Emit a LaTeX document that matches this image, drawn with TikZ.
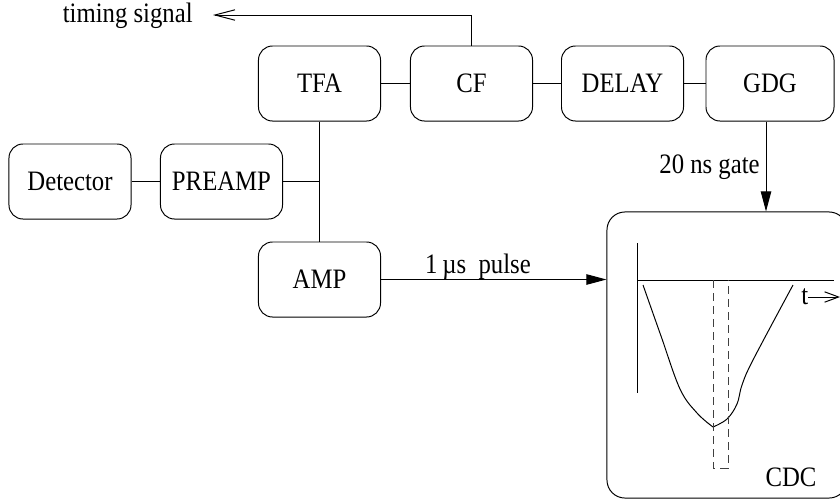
\documentclass[tikz,border=0pt]{standalone}
\usepackage{fontspec}
\setmainfont[FakeStretch=0.88]{Liberation Serif}
\usetikzlibrary{arrows.meta}
\tikzset{
  unit/.style = {draw, line width=0.7pt, rounded corners=0.35cm, minimum width=3.05cm, minimum height=1.875cm, inner sep=0pt},
  wire/.style = {line width=0.7pt},
  openhead/.style = {-{Straight Barb[length=5mm, width=2.6mm]}},
  fullhead/.style = {-{Triangle[length=5mm, width=2.6mm]}},
}
\begin{document}
\begin{tikzpicture}[x=0.025cm, y=-0.025cm, font=\fontsize{20}{24}\selectfont]
			\useasboundingbox (0,0) rectangle (840,501);
			
			\node[unit] (detector) at (70,181.5) {Detector};
			\node[unit] (preamp) at (221.5,181.5) {PREAMP};
			\node[unit] (tfa) at (319.5,83.5) {TFA};
			\node[unit] (cf) at (471.5,83.5) {CF};
			\node[unit] (delay) at (622.5,83.5) {DELAY};
			\node[unit, minimum width=3.2cm] (gdg) at (770,83.5) {GDG};
			\node[unit] (amp) at (319.5,279.5) {AMP};
			\node[unit, minimum width=6cm, minimum height=7.15cm, rounded corners=0.45cm] (cdc) at (727,355) {};
			
			\coordinate (junc) at (319.5,181.5);
			\coordinate (tsig) at (213,15);
			\node[anchor=base east, inner sep=0pt] (timing) at (193,22) {timing signal};
			
			\draw[wire] (detector) -- (preamp);
			\draw[wire] (preamp) -- (junc);
			\draw[wire] (tfa) -- (amp);
			\draw[wire] (tfa) -- (cf);
			\draw[wire] (cf) -- (delay);
			\draw[wire] (delay) -- (gdg);
			\draw[wire, openhead] (cf.north) |- (tsig);
			
			\draw[wire, fullhead] (gdg.south -| 766,0) -- (cdc.north -| 766,0);
			\node[anchor=east, inner sep=0pt] (gatelab) at (760,167) {20 ns gate};
			\draw[wire, fullhead] (amp.east) -- (amp.east -| cdc.west);
			\node[anchor=base] (pulselab) at (478,273) {1\,µs\ \ pulse};
			
			\draw[wire] (637,243) -- (637,393);
			\draw[wire] (637,280) -- (834,280);
			\node[anchor=base west, inner sep=0pt] (tlab) at (801,304) {t};
			\coordinate (tend) at (840,297);
			\draw[wire, -{Straight Barb[length=3.5mm, width=2.6mm]}] (tlab.east |- tend) -- (tend);
			
			\draw[wire] plot[smooth, tension=0.6] coordinates {(643,285) (661,336) (680,389) (697,413) (713,427)};
			\draw[wire] plot[smooth, tension=0.6] coordinates {(713,427) (727,419) (737,404) (742,385) (753,360) (793,285)};
			\draw[wire, black!75, dash pattern=on 0.2cm off 0.125cm] (713,280) -- (713,468) -- (728,468) -- (728,280);
			\node (cdclab) at (791,477) {CDC};
			
		\end{tikzpicture}
\end{document}
